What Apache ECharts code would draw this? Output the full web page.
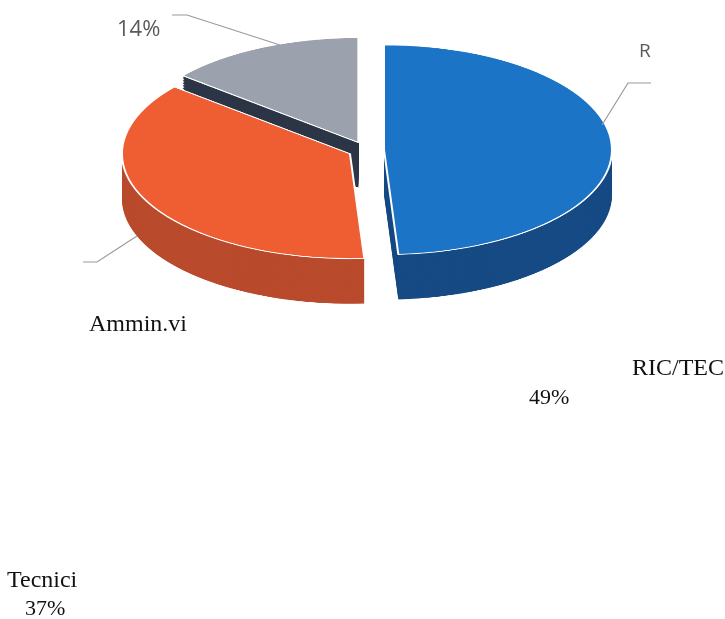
<!DOCTYPE html>
<html>
<head>
<meta charset="utf-8">
<script src="https://cdn.jsdelivr.net/npm/echarts@6/dist/echarts.min.js"></script>
<style>
  html, body { margin: 0; padding: 0; background: #fff; }
  #wrap { position: relative; width: 725px; height: 619px; overflow: hidden; }
  /* the pie is drawn round and squashed to get the tilted look */
  #pie { position: absolute; left: 0; top: 0; width: 725px; height: 760px; transform: scaleY(0.46); transform-origin: 0 0; }
  #txt { position: absolute; left: 0; top: 0; width: 725px; height: 619px; }
</style>
</head>
<body>
<div id="wrap">
  <div id="pie"></div>
  <div id="txt"></div>
</div>
<script>
  var categories = ['RIC/TEC', 'Tecnici', 'Ammin.vi'];
  var values = [49, 37, 14];
  var topColors = ['#1c74c6', '#ef5d32', '#9ca1ae'];
  var sideColors = ['#164a84', '#b94a2c', '#2c3545'];

  var cx = 366, cy = 326, radius = 228;
  var depth = 98, layers = 28;

  function makeData(colors) {
    return categories.map(function (name, i) {
      return { name: name, value: values[i], selected: true, itemStyle: { color: colors[i] } };
    });
  }

  function pieLayer(offsetY, colors, border) {
    return {
      type: 'pie',
      silent: true,
      animation: false,
      startAngle: 90,
      clockwise: true,
      radius: radius,
      center: [cx, cy + offsetY],
      selectedMode: 'multiple',
      selectedOffset: 18,
      label: { show: false },
      labelLine: { show: false },
      emphasis: { disabled: true },
      itemStyle: border ? { borderColor: '#ffffff', borderWidth: 2 } : { borderWidth: 0 },
      data: makeData(colors)
    };
  }

  var series = [];
  // side of the disc: copies of the pie, deepest first
  for (var k = layers; k >= 1; k--) {
    series.push(pieLayer(depth * k / layers, sideColors, false));
  }
  series.push(pieLayer(0, topColors, true));

  var pieChart = echarts.init(document.getElementById('pie'));
  pieChart.setOption({
    backgroundColor: 'transparent',
    animation: false,
    series: series
  });

  // labels of the scan (y is the top of the text box)
  var pctText = values.map(function (v) { return v + '%'; });
  var lineStyle = { stroke: '#9a9a9a', lineWidth: 1.2, fill: null };
  var serif = '"Liberation Serif", "DejaVu Serif", serif';
  var sans = '"Open Sans", "Liberation Sans", sans-serif';

  function label(text, x, y, size, family, color) {
    return { type: 'text', x: x, y: y, style: { text: text, font: size + 'px ' + family, fill: color } };
  }

  var txtChart = echarts.init(document.getElementById('txt'));
  txtChart.setOption({
    backgroundColor: 'transparent',
    graphic: [
      { type: 'polyline', shape: { points: [[172, 15], [187, 15], [280, 45]] }, style: lineStyle },
      { type: 'polyline', shape: { points: [[651, 83], [628, 83], [602, 125]] }, style: lineStyle },
      { type: 'polyline', shape: { points: [[83, 262], [97, 262], [137, 236]] }, style: lineStyle },
      label(pctText[2], 117, 19, 22, sans, '#5a5a5a'),
      label(categories[0].charAt(0), 639, 42, 19, sans, '#5a5a5a'),
      label(categories[2], 89, 313, 24, serif, '#111'),
      label(categories[0], 632, 357, 24, serif, '#111'),
      label(pctText[0], 529, 387, 22, serif, '#111'),
      label(categories[1], 7, 569, 24, serif, '#111'),
      label(pctText[1], 25, 598, 22, serif, '#111')
    ]
  });
</script>
</body>
</html>
